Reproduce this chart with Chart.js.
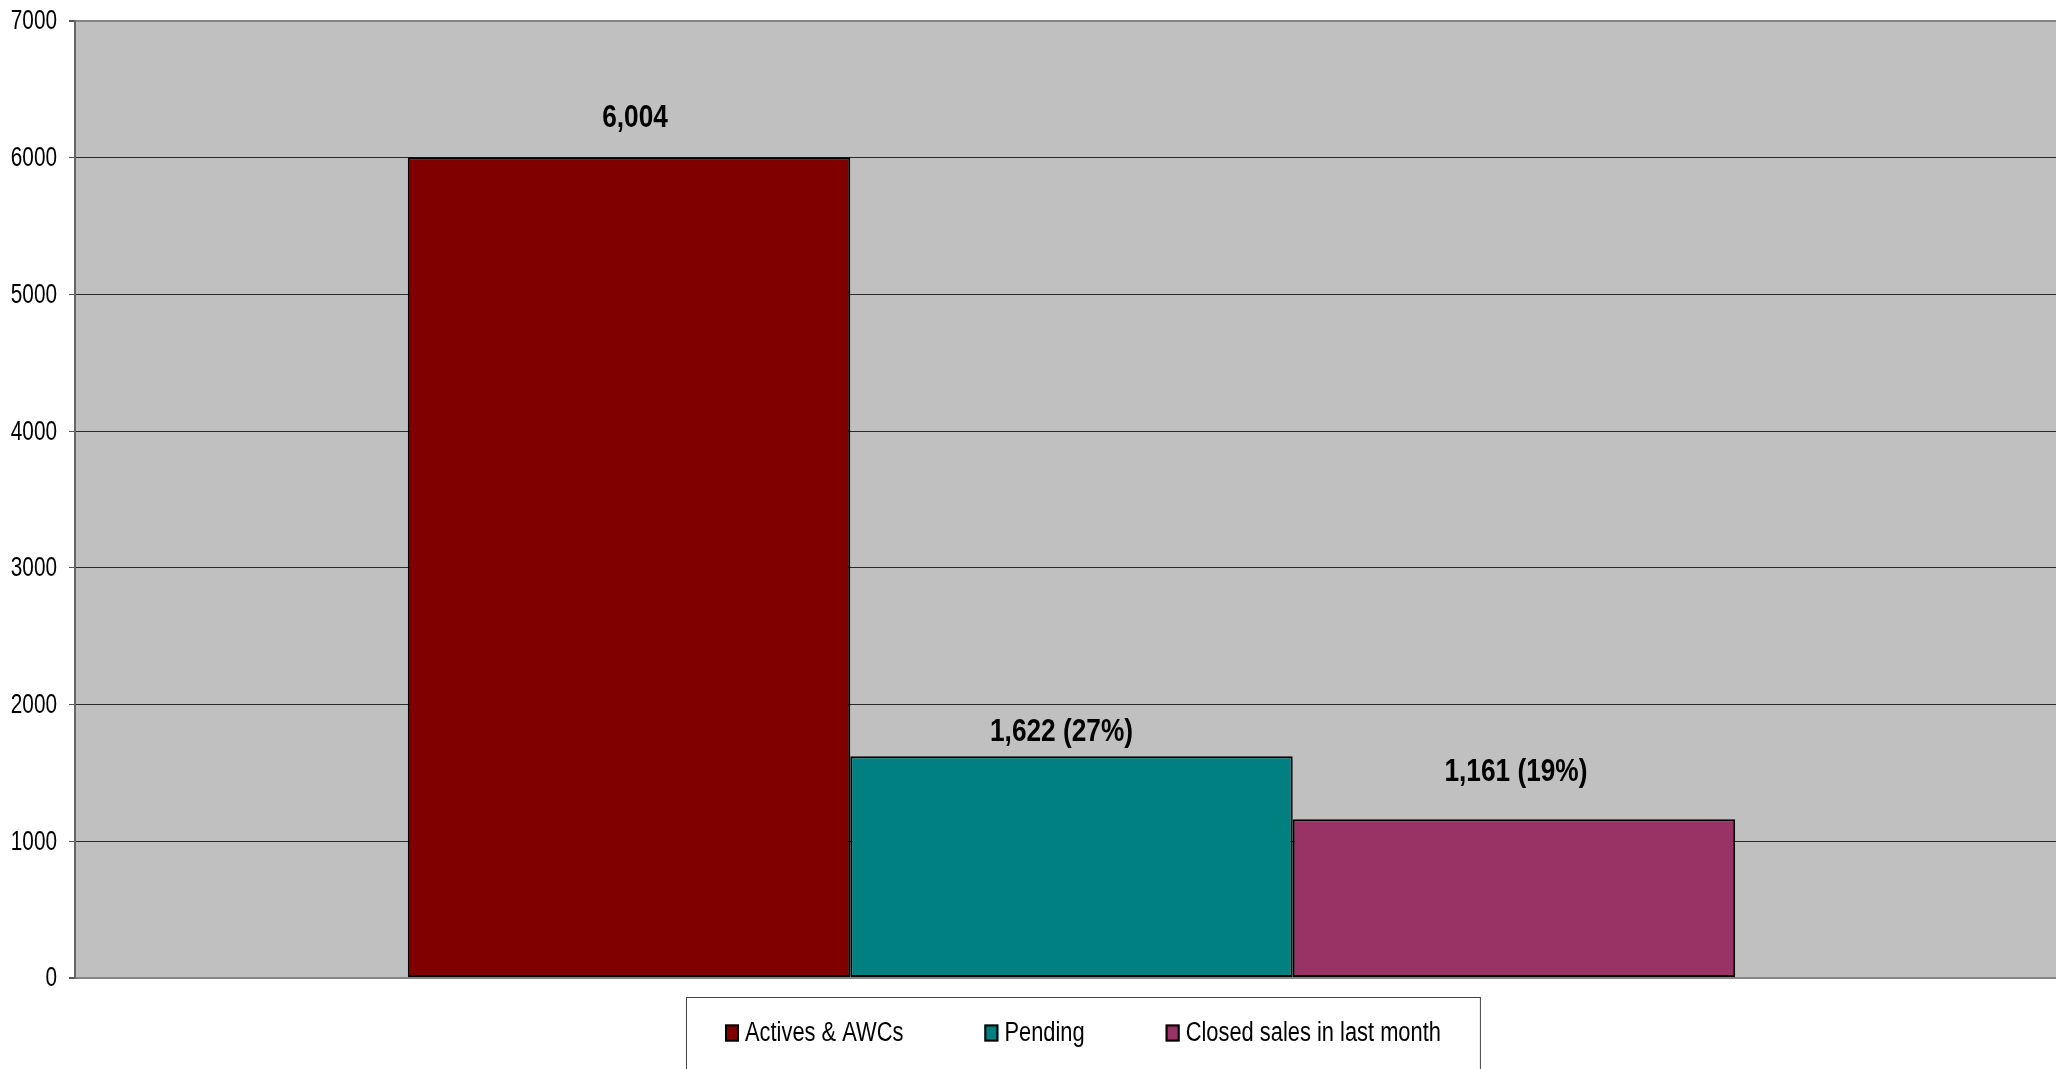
<!DOCTYPE html>
<html>
<head>
<meta charset="utf-8">
<title>Inventory</title>
<script src="https://cdn.jsdelivr.net/npm/chart.js@4/dist/chart.umd.min.js"></script>
<style>
  html, body { margin: 0; padding: 0; background: #fff; overflow: hidden; }
  #wrap { width: 2068px; height: 1069px; }
</style>
</head>
<body>
<div id="wrap"><canvas id="chart" width="2068" height="1069"></canvas></div>
<script>
// data
const categories = ['Listings'];
const seriesNames = ['Actives & AWCs', 'Pending', 'Closed sales in last month'];
const activesValues = [6004];
const pendingValues = [1622];
const closedValues = [1161];
const valueLabels = ['6,004', '1,622 (27%)', '1,161 (19%)'];
const yTickValues = [0, 1000, 2000, 3000, 4000, 5000, 6000, 7000];

const colors = ['#800000', '#008080', '#993366'];
// label placement relative to each bar's top centre, as hand-placed in the original
const labelLift = [39, 24, 47];
const labelShift = [6, -10, 2];
const NARROW = 0.82;            // fake Arial Narrow by squeezing Liberation Sans
const FONT = '"Liberation Sans", Arial, sans-serif';

function narrowText(ctx, text, x, y, align, squeeze = NARROW) {
  ctx.save();
  ctx.translate(x, y);
  ctx.scale(squeeze, 1);
  ctx.textAlign = align;
  ctx.fillText(text, 0, 0);
  ctx.restore();
}

const plotBackground = {
  id: 'plotBackground',
  beforeDraw(chart) {
    const { ctx, chartArea: a } = chart;
    ctx.save();
    ctx.fillStyle = '#c0c0c0';
    ctx.fillRect(a.left, a.top, a.right - a.left, a.bottom - a.top);
    ctx.restore();
  }
};

// y tick labels, narrow like the original
const yLabels = {
  id: 'yLabels',
  afterDraw(chart) {
    const { ctx } = chart;
    const y = chart.scales.y;
    ctx.save();
    ctx.fillStyle = '#000';
    ctx.font = '27px ' + FONT;
    ctx.textBaseline = 'middle';
    yTickValues.forEach(v => {
      narrowText(ctx, String(v), y.right - 18, y.getPixelForValue(v) + 1, 'right', 0.77);
    });
    ctx.restore();
  }
};

const barLabels = {
  id: 'barLabels',
  afterDatasetsDraw(chart) {
    const ctx = chart.ctx;
    ctx.save();
    ctx.fillStyle = '#000';
    ctx.font = 'bold 32px ' + FONT;
    ctx.textBaseline = 'middle';
    chart.data.datasets.forEach((ds, i) => {
      const bar = chart.getDatasetMeta(i).data[0];
      narrowText(ctx, valueLabels[i], bar.x + labelShift[i], bar.y - labelLift[i], 'center');
    });
    ctx.restore();
  }
};

const boxLegend = {
  id: 'boxLegend',
  afterDraw(chart) {
    const { ctx, chartArea: a } = chart;
    const boxW = 14, boxH = 17, textGap = 6, itemGap = 81, sidePad = 39;
    const squeeze = 0.81;
    ctx.save();
    ctx.font = '27px ' + FONT;
    const widths = chart.data.datasets.map(ds =>
      boxW + textGap + ctx.measureText(ds.label).width * squeeze);
    const itemsW = widths.reduce((s, w) => s + w, 0) + itemGap * (widths.length - 1);
    const legendW = itemsW + sidePad * 2;
    const left = Math.round((a.left + a.right) / 2 - legendW / 2) + 11;
    const top = a.bottom + 19;

    ctx.fillStyle = '#fff';
    ctx.fillRect(left, top, legendW, 120);
    ctx.strokeStyle = '#444';
    ctx.lineWidth = 1;
    ctx.strokeRect(left + 0.5, top + 0.5, legendW, 120);

    const cy = top + 36;
    let x = left + sidePad;
    chart.data.datasets.forEach((ds, i) => {
      ctx.fillStyle = ds.backgroundColor;
      ctx.fillRect(x, cy - boxH / 2, boxW, boxH);
      ctx.strokeStyle = '#000';
      ctx.lineWidth = 2;
      ctx.strokeRect(x + 1, cy - boxH / 2 + 1, boxW - 2, boxH - 2);
      ctx.fillStyle = '#000';
      ctx.textBaseline = 'middle';
      narrowText(ctx, ds.label, x + boxW + textGap, cy + 1, 'left', squeeze);
      x += widths[i] + itemGap;
    });
    ctx.restore();
  }
};

const seriesValues = [activesValues, pendingValues, closedValues];

new Chart(document.getElementById('chart'), {
  type: 'bar',
  data: {
    labels: categories,
    datasets: seriesNames.map((name, i) => ({
      label: name,
      data: seriesValues[i],
      backgroundColor: colors[i],
      borderColor: '#000',
      borderWidth: 2,
      borderSkipped: false,
      categoryPercentage: 0.666,
      barPercentage: 1.0
    }))
  },
  options: {
    responsive: false,
    animation: false,
    layout: { padding: { top: 21, right: 0, bottom: 91, left: 0 } },
    scales: {
      x: { display: false },
      y: {
        min: 0,
        max: 7000,
        afterBuildTicks: s => { s.ticks = yTickValues.map(v => ({ value: v })); },
        afterFit: s => { s.width = 75; },
        ticks: { display: false },
        grid: {
          color: c => (c.tick.value === 0 || c.tick.value === 7000) ? '#858585' : '#2a2a2a',
          lineWidth: c => (c.tick.value === 0 || c.tick.value === 7000) ? 2 : 1,
          tickLength: 6,
          tickColor: '#555'
        },
        border: { color: '#666', width: 2 }
      }
    },
    plugins: {
      legend: { display: false },
      tooltip: { enabled: false }
    }
  },
  plugins: [plotBackground, yLabels, barLabels, boxLegend]
});
</script>
</body>
</html>
